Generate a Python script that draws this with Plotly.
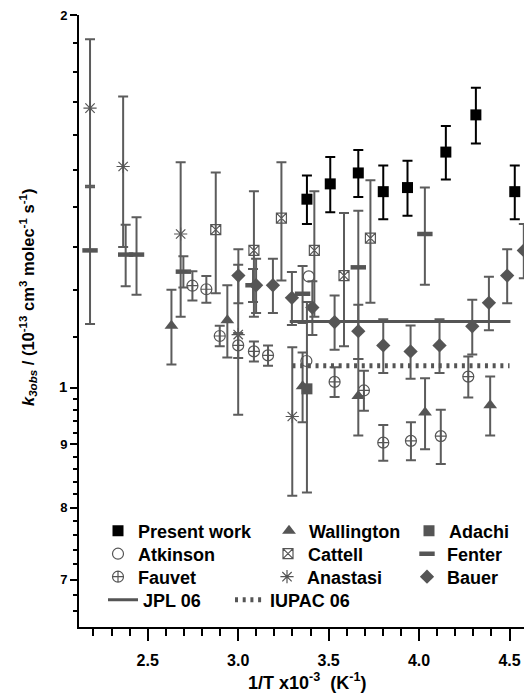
import plotly.graph_objects as go

# ---------------- data ----------------
present_x = [3.380, 3.509, 3.664, 3.802, 3.936, 4.148, 4.314, 4.529]
present_y = [1.420, 1.461, 1.491, 1.440, 1.451, 1.550, 1.661, 1.440]
present_err = [0.064, 0.075, 0.065, 0.072, 0.074, 0.077, 0.086, 0.072]

wallington_x = [2.631, 2.940, 3.356, 3.664, 4.033, 4.393]
wallington_y = [1.122, 1.134, 1.003, 0.985, 0.955, 0.968]
wallington_err = [0.078, 0.076, 0.065, 0.070, 0.063, 0.053]

adachi_x = [3.380]
adachi_y = [0.998]
adachi_err = [0.175]

atkinson_x = [3.390, 3.377]
atkinson_y = [1.230, 1.051]

cattell_x = [2.876, 3.087, 3.239, 3.421, 3.585, 3.731]
cattell_y = [1.342, 1.291, 1.371, 1.291, 1.232, 1.321]
cattell_err = [0.150, 0.150, 0.150, 0.150, 0.152, 0.150]

fenter_x = [2.181, 2.378, 2.438, 2.697, 3.082, 3.356, 3.664, 4.032]
fenter_y = [1.291, 1.281, 1.281, 1.241, 1.210, 1.191, 1.251, 1.331]
fenter_err = [0.165, 0.073, 0.092, 0.036, 0.037, 0.063, 0.139, 0.120]

fauvet_x = [2.747, 2.824, 2.898, 3.000, 3.087, 3.165, 3.533, 3.695, 3.802, 3.955, 4.120, 4.272]
fauvet_y = [1.209, 1.201, 1.101, 1.082, 1.070, 1.062, 1.011, 0.995, 0.903, 0.906, 0.914, 1.021]
fauvet_err = [0.033, 0.030, 0.021, 0.025, 0.020, 0.020, 0.028, 0.037, 0.030, 0.032, 0.046, 0.039]

anastasi_x = [2.181, 2.364, 2.682, 3.000, 3.299]
anastasi_y = [1.682, 1.509, 1.331, 1.104, 0.948]
anastasi_err = [0.230, 0.210, 0.190, 0.153, 0.130]

bauer_x = [3.001, 3.099, 3.192, 3.297, 3.410, 3.533, 3.664, 3.802, 3.953, 4.113, 4.294, 4.386, 4.487, 4.579]
bauer_y = [1.232, 1.210, 1.210, 1.182, 1.161, 1.130, 1.111, 1.082, 1.070, 1.082, 1.121, 1.171, 1.232, 1.291]
bauer_err = [0.062, 0.061, 0.061, 0.058, 0.058, 0.057, 0.056, 0.054, 0.053, 0.054, 0.057, 0.058, 0.062, 0.065]

jpl_x = [3.285, 4.505]
jpl_y = [1.131, 1.131]
iupac_x = [3.300, 4.500]
iupac_y = [1.042, 1.042]

x_tickvals = [2.5, 3.0, 3.5, 4.0, 4.5]
x_ticktext = ["2.5", "3.0", "3.5", "4.0", "4.5"]
y_tickvals = [0.7, 0.8, 0.9, 1.0, 2.0]
y_ticktext = ["7", "8", "9", "<span style='font-size:15px'>1</span>", "2"]
y_minor = [0.66, 0.68, 0.72, 0.74, 0.76, 0.78, 0.82, 0.84, 0.86, 0.88,
           0.92, 0.94, 0.96, 0.98, 1.1, 1.2, 1.3, 1.4, 1.5, 1.6, 1.7, 1.8, 1.9]

# ---------------- style ----------------
GRAY = "#555555"
EB = "#5c5c5c"
FONT = "Liberation Sans, Arial, sans-serif"

W, H = 524, 694
ML, MR, MT, MB = 79, 0, 15, 67
PW, PH = W - ML - MR, H - MT - MB

def px_x(p):
    return (p - ML) / PW

def px_y(p):
    return (H - MB - p) / PH

fig = go.Figure()

def add_series(name, x, y, err, symbol, size, mcolor, lcolor, lwidth, ecolor, leg):
    kw = dict()
    if err is not None:
        kw["error_y"] = dict(type="data", array=err, visible=True, color=ecolor,
                             thickness=2, width=5)
    fig.add_trace(go.Scatter(
        x=x, y=y, mode="markers", name=name, legend=leg,
        marker=dict(symbol=symbol, size=size, color=mcolor,
                    line=dict(color=lcolor, width=lwidth)),
        **kw))

add_series("Anastasi", anastasi_x, anastasi_y, anastasi_err, "asterisk-open", 11, GRAY, GRAY, 1.2, EB, "legend8")
add_series("Fenter", fenter_x, fenter_y, fenter_err, "line-ew-open", 11, GRAY, GRAY, 4.5, EB, "legend6")
add_series("Fauvet", fauvet_x, fauvet_y, fauvet_err, "circle-cross-open", 11, GRAY, GRAY, 1.2, EB, "legend7")
add_series("Cattell", cattell_x, cattell_y, cattell_err, "square-x-open", 10, GRAY, GRAY, 1.2, EB, "legend5")
add_series("Wallington", wallington_x, wallington_y, wallington_err, "triangle-up", 12, GRAY, GRAY, 0, EB, "legend2")
add_series("Bauer", bauer_x, bauer_y, bauer_err, "diamond", 11, GRAY, GRAY, 0, EB, "legend9")
add_series("Adachi", adachi_x, adachi_y, adachi_err, "square", 11, GRAY, GRAY, 0, EB, "legend3")
add_series("Atkinson", atkinson_x, atkinson_y, None, "circle-open", 11, GRAY, GRAY, 1.2, EB, "legend4")

fig.add_trace(go.Scatter(x=jpl_x, y=jpl_y, mode="lines", name="JPL 06", legend="legend10",
                         line=dict(color=GRAY, width=3)))
fig.add_trace(go.Scatter(x=iupac_x, y=iupac_y, mode="lines", name="IUPAC 06", legend="legend11",
                         line=dict(color=GRAY, width=5, dash="3px,4.7px")))

add_series("Present work", present_x, present_y, present_err, "square", 11, "black", "black", 0, "black", "legend")

# per-entry legends (symbol centre x, row centre y in pixels)
leg_pos = {
    "legend": (118, 531), "legend2": (289, 531), "legend3": (429, 531),
    "legend4": (118, 554), "legend5": (288, 554), "legend6": (427, 554),
    "legend7": (118, 577), "legend8": (287, 577), "legend9": (427, 577),
    "legend10": (123, 600), "legend11": (250, 600),
}
legend_layout = {}
for key, (sx, sy) in leg_pos.items():
    legend_layout[key] = dict(
        x=px_x(sx - 20), y=px_y(sy), xanchor="left", yanchor="middle",
        xref="paper", yref="paper", bgcolor="rgba(0,0,0,0)", borderwidth=0,
        font=dict(family=FONT, size=18, color="black", weight="bold"),
        itemsizing="trace", tracegroupgap=0,
    )

fig.update_layout(
    width=W, height=H,
    margin=dict(l=ML, r=MR, t=MT, b=MB),
    paper_bgcolor="white", plot_bgcolor="white",
    showlegend=True,
    **legend_layout,
    xaxis=dict(
        range=[2.12, 4.58], showgrid=False, zeroline=False,
        showline=True, linecolor="black", linewidth=2,
        ticks="outside", ticklen=12, tickwidth=2, tickcolor="black",
        tickmode="array", tickvals=x_tickvals, ticktext=x_ticktext,
        tickfont=dict(family=FONT, size=16, color="black", weight="bold"),
        ticklabelstandoff=6,
        minor=dict(ticks="outside", dtick=0.1, tick0=2.0, ticklen=7, tickwidth=2, tickcolor="black", showgrid=False),
    ),
    yaxis=dict(
        type="log", range=[-0.1932, 0.30103], showgrid=False, zeroline=False,
        showline=True, linecolor="black", linewidth=2,
        ticks="outside", ticklen=7, tickwidth=2, tickcolor="black",
        tickmode="array", tickvals=y_tickvals, ticktext=y_ticktext,
        tickfont=dict(family=FONT, size=13, color="black", weight="bold"),
        minor=dict(ticks="outside", tickmode="array", tickvals=y_minor, ticklen=4, tickwidth=1.5, tickcolor="black", showgrid=False),
    ),
    annotations=[
        dict(text="1/T x10<sup>-3</sup>  (K<sup>-1</sup>)", xref="paper", yref="paper",
             x=px_x(307), y=px_y(681), xanchor="center", yanchor="middle", showarrow=False,
             font=dict(family=FONT, size=18, color="black", weight="bold")),
        dict(text="<i>k</i><sub><i>3obs</i></sub> / (10<sup>-13</sup> cm<sup>3</sup> molec<sup>-1</sup> s<sup>-1</sup>)",
             xref="paper", yref="paper", x=px_x(28), y=px_y(298), xanchor="center", yanchor="middle",
             textangle=-90, showarrow=False,
             font=dict(family=FONT, size=16.5, color="black", weight="bold")),
    ],
)

fig.write_html("out.html")
